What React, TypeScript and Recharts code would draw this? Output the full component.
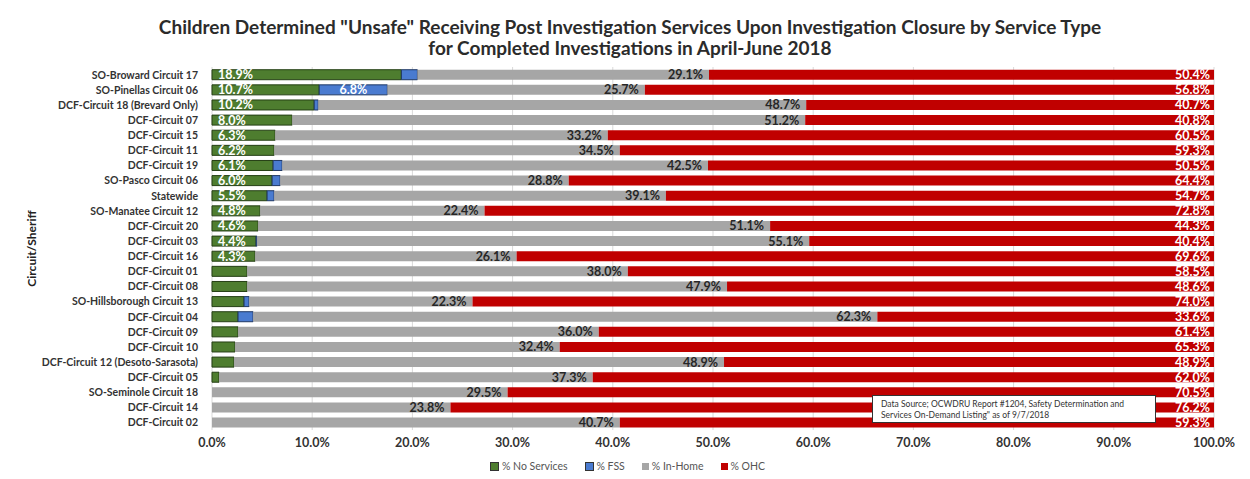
import { BarChart, Bar, XAxis, YAxis, CartesianGrid, Legend, LabelList } from 'recharts';

const categories = [
  'SO-Broward Circuit 17',
  'SO-Pinellas Circuit 06',
  'DCF-Circuit 18 (Brevard Only)',
  'DCF-Circuit 07',
  'DCF-Circuit 15',
  'DCF-Circuit 11',
  'DCF-Circuit 19',
  'SO-Pasco Circuit 06',
  'Statewide',
  'SO-Manatee Circuit 12',
  'DCF-Circuit 20',
  'DCF-Circuit 03',
  'DCF-Circuit 16',
  'DCF-Circuit 01',
  'DCF-Circuit 08',
  'SO-Hillsborough Circuit 13',
  'DCF-Circuit 04',
  'DCF-Circuit 09',
  'DCF-Circuit 10',
  'DCF-Circuit 12 (Desoto-Sarasota)',
  'DCF-Circuit 05',
  'SO-Seminole Circuit 18',
  'DCF-Circuit 14',
  'DCF-Circuit 02',
];

const noServices = [18.9, 10.7, 10.2, 8.0, 6.3, 6.2, 6.1, 6.0, 5.5, 4.8, 4.6, 4.4, 4.3, 3.5, 3.5, 3.2, 2.6, 2.6, 2.3, 2.2, 0.7, 0, 0, 0];
const fss = [1.6, 6.8, 0.4, 0, 0, 0, 0.9, 0.8, 0.7, 0, 0, 0.1, 0, 0, 0, 0.5, 1.5, 0, 0, 0, 0, 0, 0, 0];
const inHome = [29.1, 25.7, 48.7, 51.2, 33.2, 34.5, 42.5, 28.8, 39.1, 22.4, 51.1, 55.1, 26.1, 38.0, 47.9, 22.3, 62.3, 36.0, 32.4, 48.9, 37.3, 29.5, 23.8, 40.7];
const ohc = [50.4, 56.8, 40.7, 40.8, 60.5, 59.3, 50.5, 64.4, 54.7, 72.8, 44.3, 40.4, 69.6, 58.5, 48.6, 74.0, 33.6, 61.4, 65.3, 48.9, 62.0, 70.5, 76.2, 59.3];

const xTicks = [0, 10, 20, 30, 40, 50, 60, 70, 80, 90, 100];

const seriesNames = ['% No Services', '% FSS', '% In-Home', '% OHC'];
const seriesColors = ['#4e7d2f', '#4a7bd0', '#a6a6a6', '#c00000'];

const data = categories.map((name, i) => ({
  name,
  noServices: noServices[i],
  fss: fss[i],
  inHome: inHome[i],
  ohc: ohc[i],
}));

const FONT = 'Lato, "Open Sans", sans-serif';
const pct = (v: number) => `${Number(v).toFixed(1)}%`;

// label only drawn when the segment is wide enough (like the original)
const startLabel = (min: number, color: string) => (props: any) => {
  const { x, y, height, value } = props;
  if (value == null || value < min) return null;
  return (
    <text x={x + 6} y={y + height / 2 + 4.5} fill={color} fontSize={12.5} fontWeight={700} fontFamily={FONT}>
      {pct(value)}
    </text>
  );
};

const centerLabel = (min: number, color: string) => (props: any) => {
  const { x, y, width, height, value } = props;
  if (value == null || value < min) return null;
  return (
    <text x={x + width / 2} y={y + height / 2 + 4.5} textAnchor="middle" fill={color} fontSize={12.5} fontWeight={700} fontFamily={FONT}>
      {pct(value)}
    </text>
  );
};

const endLabel = (color: string, pad: number) => (props: any) => {
  const { x, y, width, height, value } = props;
  if (value == null || value <= 0) return null;
  return (
    <text x={x + width - pad} y={y + height / 2 + 4.5} textAnchor="end" fill={color} fontSize={12.5} fontWeight={700} fontFamily={FONT}>
      {pct(value)}
    </text>
  );
};

// single-line category ticks, no wrapping
const CategoryTick = (props: any) => {
  const { x, y, payload } = props;
  return (
    <text x={x - 6} y={y} dy={4} textAnchor="end" fill="#333" fontSize={10.5} fontWeight={700} fontFamily={FONT}>
      {payload.value}
    </text>
  );
};

const LegendContent = () => (
  <div style={{ display: 'flex', justifyContent: 'center', height: 20, alignItems: 'center', fontSize: 10.5, color: '#555', fontFamily: FONT, paddingLeft: 34 }}>
    {seriesNames.map((n, i) => (
      <span key={n} style={{ display: 'inline-flex', alignItems: 'center', marginRight: 17 }}>
        <span
          style={{
            display: 'inline-block',
            width: 7,
            height: 7,
            background: seriesColors[i],
            border: i < 2 ? '1px solid #333' : 'none',
            marginRight: 3,
          }}
        />
        {n}
      </span>
    ))}
  </div>
);

export default function App() {
  return (
    <div style={{ position: 'absolute', left: 0, top: 0, width: 1250, height: 479, background: '#fff', fontFamily: FONT }}>
      <div
        style={{
          position: 'absolute',
          left: 0,
          top: 16,
          width: 1260,
          textAlign: 'center',
          fontSize: 19,
          fontWeight: 700,
          color: '#2b2b2b',
          lineHeight: '21px',
        }}
      >
        Children Determined "Unsafe" Receiving Post Investigation Services Upon Investigation Closure by Service Type
        <br />
        for Completed Investigations in April-June 2018
      </div>

      <BarChart
        width={1250}
        height={479}
        data={data}
        layout="vertical"
        margin={{ top: 67, right: 36, left: 24, bottom: 3 }}
        barCategoryGap="18%"
        style={{ position: 'absolute', left: 0, top: 0 }}
      >
        <CartesianGrid horizontal={false} stroke="#d9d9d9" />
        <XAxis
          type="number"
          domain={[0, 100]}
          ticks={xTicks}
          tickFormatter={pct}
          axisLine={false}
          tickLine={false}
          height={26}
          tick={{ fontSize: 12.5, fontWeight: 700, fill: '#333', fontFamily: FONT }}
        />
        <YAxis
          type="category"
          dataKey="name"
          width={188}
          axisLine={false}
          tickLine={false}
          interval={0}
          tick={<CategoryTick />}
          label={{
            value: 'Circuit/Sheriff',
            angle: -90,
            position: 'insideLeft',
            offset: 8,
            style: { fontSize: 12, fontWeight: 700, fill: '#222', fontFamily: FONT, textAnchor: 'middle' },
          }}
        />
        <Legend verticalAlign="bottom" height={20} content={<LegendContent />} />
        <Bar dataKey="noServices" name={seriesNames[0]} stackId="a" fill={seriesColors[0]} stroke="#243f14" strokeWidth={1} isAnimationActive={false}>
          <LabelList dataKey="noServices" content={startLabel(4, '#ffffff')} />
        </Bar>
        <Bar dataKey="fss" name={seriesNames[1]} stackId="a" fill={seriesColors[1]} stroke="#1f3864" strokeWidth={1} isAnimationActive={false}>
          <LabelList dataKey="fss" content={centerLabel(5, '#ffffff')} />
        </Bar>
        <Bar dataKey="inHome" name={seriesNames[2]} stackId="a" fill={seriesColors[2]} isAnimationActive={false}>
          <LabelList dataKey="inHome" content={endLabel('#262626', 6)} />
        </Bar>
        <Bar dataKey="ohc" name={seriesNames[3]} stackId="a" fill={seriesColors[3]} isAnimationActive={false}>
          <LabelList dataKey="ohc" content={endLabel('#ffffff', 4)} />
        </Bar>
      </BarChart>

      <div
        style={{
          position: 'absolute',
          left: 872,
          top: 395,
          width: 284,
          height: 28,
          border: '1px solid #333',
          background: '#fff',
          fontSize: 8.5,
          lineHeight: '10.5px',
          color: '#333',
          padding: '3px 0 0 8px',
          boxSizing: 'border-box',
        }}
      >
        Data Source; OCWDRU Report #1204, Safety Determination and
        <br />
        Services On-Demand Listing" as of 9/7/2018
      </div>
    </div>
  );
}
